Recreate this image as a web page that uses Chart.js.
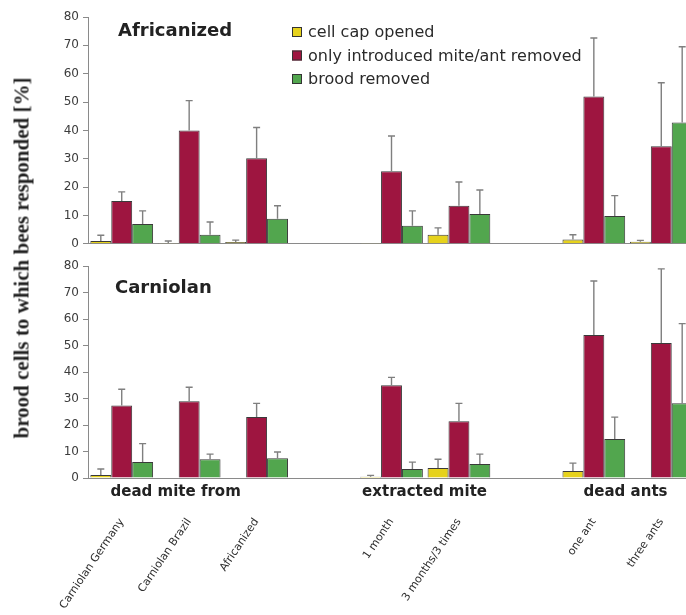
<!DOCTYPE html>
<html>
<head>
<meta charset="utf-8">
<script src="https://cdn.jsdelivr.net/npm/chart.js@4/dist/chart.umd.min.js"></script>
<style>
  html, body { margin: 0; padding: 0; background: #fff; overflow: hidden; }
  #wrap { position: relative; width: 695px; height: 615px; }
  #topBox { position: absolute; left: 0; top: 0; width: 695px; height: 255px; }
  #botBox { position: absolute; left: 0; top: 255px; width: 695px; height: 360px; }
  #yTitle {
    position: absolute; left: 22px; top: 258px;
    transform: translate(-50%, -50%) rotate(-90deg);
    white-space: nowrap;
    font: bold 21px "Liberation Serif", "DejaVu Serif", serif;
    color: #222;
  }
</style>
</head>
<body>
<div id="wrap">
  <div id="topBox"><canvas id="topChart" width="695" height="255"></canvas></div>
  <div id="botBox"><canvas id="botChart" width="695" height="360"></canvas></div>
  <div id="yTitle">brood cells to which bees responded [%]</div>
</div>
<script>
// Categories along the x axis (empty strings are spacer slots between groups)
const categories = ["Carniolan Germany", "Carniolan Brazil", "Africanized", "",
                    "1 month", "3 months/3 times", "", "one ant", "three ants"];

// Group captions and where they sit on the category axis
const groupLabels = ["dead mite from", "extracted mite", "dead ants"];
const groupCentres = [0.8, 4.49, 7.47];

const seriesNames = ["cell cap opened", "only introduced mite/ant removed", "brood removed"];
const seriesColors = ["#e6d21c", "#9e1540", "#52a64e"];

const yTicks = [0, 10, 20, 30, 40, 50, 60, 70, 80];

// Africanized colonies: means and upper error (SD)
const afrCapOpened = [1.0, 0.3, 0.6, null, 0.3, 3.2, null, 1.5, 0.7];
const afrCapErr    = [2.0, 0.7, 0.7, null, 0.0, 2.4, null, 1.7, 0.5];
const afrMite      = [15.1, 40.0, 30.2, null, 25.6, 13.4, null, 52.0, 34.4];
const afrMiteErr   = [3.2, 10.5, 10.8, null, 12.4, 8.4, null, 20.6, 22.4];
const afrBrood     = [7.0, 3.2, 8.8, null, 6.4, 10.5, null, 9.8, 42.8];
const afrBroodErr  = [4.6, 4.5, 4.6, null, 5.2, 8.5, null, 7.2, 26.7];

// Carniolan colonies: means and upper error (SD)
const carCapOpened = [1.1, 0, 0, null, 0.5, 3.8, null, 2.6, 0];
const carCapErr    = [2.3, 0, 0, null, 0.5, 3.3, null, 3.0, 0];
const carMite      = [27.4, 29.0, 23.0, null, 35.0, 21.4, null, 54.0, 51.0];
const carMiteErr   = [6.1, 5.3, 5.2, null, 3.0, 6.8, null, 20.4, 28.0];
const carBrood     = [6.0, 7.1, 7.5, null, 3.4, 5.3, null, 14.7, 28.2];
const carBroodErr  = [7.0, 1.9, 2.3, null, 2.6, 3.7, null, 8.3, 30.1];

const SANS = '"DejaVu Sans", "Liberation Sans", Arial, sans-serif';
const AXIS_GREY = '#8a8a8a';

function makeDatasets(vals, errs) {
  return vals.map((v, k) => ({
    label: seriesNames[k],
    data: v,
    errors: errs[k],
    backgroundColor: seriesColors[k],
    borderColor: '#3a3a3a',
    borderWidth: 1,
    borderSkipped: 'bottom',
    categoryPercentage: 0.93,
    barPercentage: 1.0
  }));
}

// Upward error whiskers with a small cap
const errorBars = {
  id: 'errorBars',
  afterDatasetsDraw(chart) {
    const ctx = chart.ctx;
    const y = chart.scales.y;
    ctx.save();
    ctx.strokeStyle = '#7f7f7f';
    ctx.lineWidth = 1.4;
    chart.data.datasets.forEach((ds, di) => {
      const meta = chart.getDatasetMeta(di);
      meta.data.forEach((bar, i) => {
        const v = ds.data[i], e = ds.errors[i];
        if (v === null || !e) return;
        const yTop = y.getPixelForValue(v + e);
        ctx.beginPath();
        ctx.moveTo(bar.x, bar.y);
        ctx.lineTo(bar.x, yTop);
        ctx.moveTo(bar.x - 3.5, yTop);
        ctx.lineTo(bar.x + 3.5, yTop);
        ctx.stroke();
      });
    });
    ctx.restore();
  }
};

// Panel caption inside the plot area
const panelTitle = {
  id: 'panelTitle',
  afterDraw(chart, args, opts) {
    const ctx = chart.ctx, a = chart.chartArea;
    ctx.save();
    ctx.font = 'bold 18px ' + SANS;
    ctx.fillStyle = '#222';
    ctx.textBaseline = 'middle';
    ctx.textAlign = 'left';
    ctx.fillText(opts.text, a.left + opts.dx, a.top + opts.dy);
    ctx.restore();
  }
};

// Legend drawn inside the upper panel
const innerLegend = {
  id: 'innerLegend',
  afterDraw(chart, args, opts) {
    if (!opts.show) return;
    const ctx = chart.ctx;
    ctx.save();
    ctx.font = '16px ' + SANS;
    ctx.textBaseline = 'middle';
    ctx.textAlign = 'left';
    chart.data.datasets.forEach((ds, k) => {
      const yc = opts.y + k * opts.step;
      ctx.fillStyle = ds.backgroundColor;
      ctx.fillRect(opts.x, yc - 5, 10, 10);
      ctx.strokeStyle = '#333';
      ctx.lineWidth = 1;
      ctx.strokeRect(opts.x + 0.5, yc - 4.5, 9, 9);
      ctx.fillStyle = '#2a2a2a';
      ctx.fillText(ds.label, opts.x + 16, yc + 1);
    });
    ctx.restore();
  }
};

// Group captions under the lower x axis
const groupCaptions = {
  id: 'groupCaptions',
  afterDraw(chart, args, opts) {
    if (!opts.show) return;
    const ctx = chart.ctx, x = chart.scales.x, a = chart.chartArea;
    ctx.save();
    ctx.font = 'bold 15px ' + SANS;
    ctx.fillStyle = '#222';
    ctx.textAlign = 'center';
    ctx.textBaseline = 'middle';
    groupLabels.forEach((g, k) => {
      ctx.fillText(g, x.getPixelForValue(groupCentres[k]), a.bottom + 14);
    });
    ctx.restore();
  }
};

function makeChart(id, datasets, cfg) {
  return new Chart(document.getElementById(id), {
    type: 'bar',
    data: { labels: categories, datasets: datasets },
    options: {
      responsive: false,
      animation: false,
      layout: { padding: { top: cfg.padTop, left: 0, right: 0, bottom: 0 } },
      plugins: {
        legend: { display: false },
        tooltip: { enabled: false },
        panelTitle: { text: cfg.title, dx: cfg.titleDx, dy: cfg.titleDy },
        innerLegend: { show: cfg.legend, x: 292, y: 32, step: 23.5 },
        groupCaptions: { show: cfg.captions }
      },
      scales: {
        x: {
          grid: { display: false },
          border: { display: true, color: AXIS_GREY, width: 1 },
          ticks: {
            display: cfg.xLabels,
            autoSkip: false,
            minRotation: 56,
            maxRotation: 56,
            padding: 30,
            color: '#2e2e2e',
            font: { family: SANS, size: 11 }
          },
          afterFit(s) {
            s.height = cfg.xHeight;
            // keep the plot width identical in both panels
            s.paddingLeft = 0;
            s.paddingRight = 0;
          }
        },
        y: {
          min: 0, max: 80,
          afterBuildTicks(s) { s.ticks = yTicks.map(v => ({ value: v })); },
          grid: { display: true, drawOnChartArea: false, tickLength: 5, color: AXIS_GREY },
          border: { display: true, color: AXIS_GREY, width: 1 },
          ticks: { color: '#3c3c3c', padding: 4, font: { family: SANS, size: 12 } },
          afterFit(s) { s.width = 88; }
        }
      }
    },
    plugins: [errorBars, panelTitle, innerLegend, groupCaptions]
  });
}

makeChart('topChart',
  makeDatasets([afrCapOpened, afrMite, afrBrood], [afrCapErr, afrMiteErr, afrBroodErr]),
  { padTop: 17, xHeight: 10, xLabels: false, title: 'Africanized', titleDx: 30, titleDy: 14,
    legend: true, captions: false });

makeChart('botChart',
  makeDatasets([carCapOpened, carMite, carBrood], [carCapErr, carMiteErr, carBroodErr]),
  { padTop: 10, xHeight: 137, xLabels: true, title: 'Carniolan', titleDx: 27, titleDy: 22,
    legend: false, captions: true });
</script>
</body>
</html>
